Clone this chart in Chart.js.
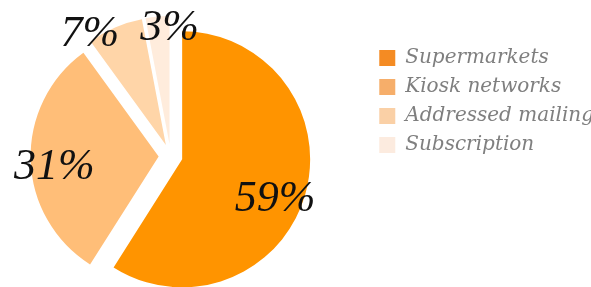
<!DOCTYPE html>
<html>
<head>
<meta charset="utf-8">
<script src="https://cdn.jsdelivr.net/npm/chart.js@4"></script>
<style>
  html, body { margin: 0; padding: 0; background: #fff; overflow: hidden; }
  #shareChart { display: block; margin-left: -29px; }
</style>
</head>
<body>
<canvas id="shareChart" width="633" height="287"></canvas>
<script>
const channels = ['Supermarkets', 'Kiosk networks', 'Addressed mailing', 'Subscription'];
const shares = [59, 31, 7, 3];
const shareLabels = ['59%', '31%', '7%', '3%'];

const sliceColors = ['#ff9400', '#ffbe78', '#ffd5a8', '#ffecdc'];
const legendColors = ['#f48b23', '#f6ae6a', '#fad0a6', '#fcebdf'];

// push every slice out from the centre along its middle angle
const explode = {
  id: 'explode',
  afterDatasetsUpdate(chart, args, opts) {
    chart.getDatasetMeta(0).data.forEach((arc) => {
      const mid = (arc.startAngle + arc.endAngle) / 2;
      arc.x += Math.cos(mid) * opts.distance;
      arc.y += Math.sin(mid) * opts.distance;
    });
  },
};

// the big percentages written on / next to the slices
const sliceLabels = {
  id: 'sliceLabels',
  afterDatasetsDraw(chart, args, opts) {
    const ctx = chart.ctx;
    ctx.save();
    ctx.font = opts.font;
    ctx.fillStyle = opts.color;
    ctx.textAlign = 'center';
    ctx.textBaseline = 'middle';
    chart.getDatasetMeta(0).data.forEach((arc, i) => {
      const angle = (arc.startAngle + arc.endAngle) / 2 + opts.turn[i] * Math.PI / 180;
      const r = arc.outerRadius * opts.reach[i];
      ctx.fillText(shareLabels[i], arc.x + Math.cos(angle) * r, arc.y + Math.sin(angle) * r);
    });
    ctx.restore();
  },
};

new Chart(document.getElementById('shareChart'), {
  type: 'pie',
  data: {
    labels: channels,
    datasets: [
      {
        data: shares,
        backgroundColor: sliceColors,
        borderWidth: 0,
      },
    ],
  },
  options: {
    responsive: false,
    animation: false,
    radius: 128,
    layout: {
      padding: { left: 0, right: 0, top: 39, bottom: 14 },
    },
    plugins: {
      legend: {
        position: 'right',
        align: 'start',
        labels: {
          boxWidth: 16,
          boxHeight: 16,
          padding: 9,
          color: '#7f7f7f',
          font: { family: 'DejaVu Serif', size: 20, style: 'italic' },
          generateLabels(chart) {
            const base = Chart.overrides.doughnut.plugins.legend.labels.generateLabels(chart);
            return base.map((item, i) => ({
              ...item,
              fillStyle: legendColors[i],
              strokeStyle: legendColors[i],
              lineWidth: 0,
            }));
          },
        },
      },
      tooltip: { enabled: false },
      explode: { distance: 12 },
      sliceLabels: {
        font: 'italic 44px "Liberation Serif"',
        color: '#111111',
        reach: [0.79, 0.82, 1.05, 0.9],
        turn: [7, -4, -11, 5.4],
      },
    },
  },
  plugins: [explode, sliceLabels],
});
</script>
</body>
</html>
